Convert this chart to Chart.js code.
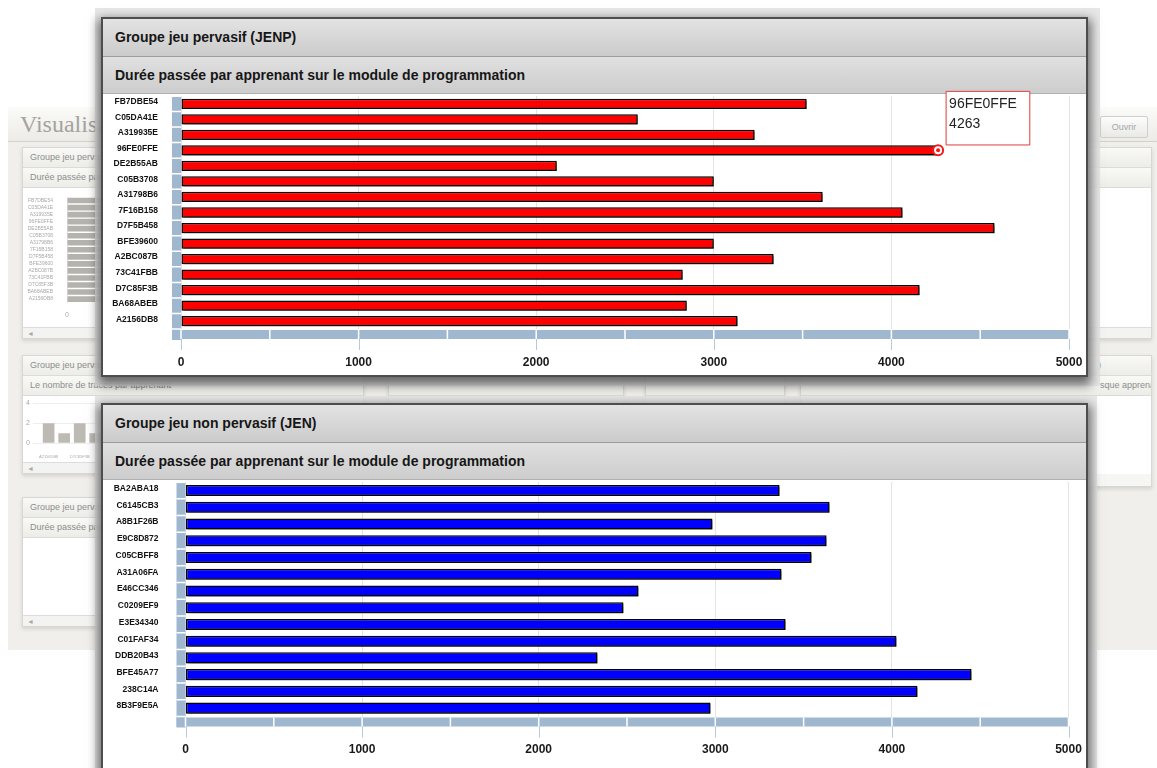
<!DOCTYPE html>
<html lang="fr">
<head>
<meta charset="utf-8">
<title>Durée passée par apprenant</title>
<script src="https://cdn.jsdelivr.net/npm/chart.js@4.4.1/dist/chart.umd.min.js"></script>
<style>
  body { margin: 0; width: 1157px; height: 768px; overflow: hidden; position: relative; background: #fff; font-family: "Liberation Sans", Arial, sans-serif; }
  .abs { position: absolute; }
  #dash { left: 8px; top: 107px; width: 1149px; height: 543px; background: #f0efeb; }
  #dashHead { left: 8px; top: 107px; width: 1149px; height: 34px; background: linear-gradient(#fbfbf9, #ecebe6); border-bottom: 1px solid #d3d2cc; }
  #dashHead span { position: absolute; left: 12px; top: 4px; font: 24px "Liberation Serif", serif; color: #a3a3a0; }
  .btn { width: 46px; height: 20px; border: 1px solid #cfcfcb; border-radius: 2px; background: linear-gradient(#fdfdfd, #e9e9e6); font-size: 9px; color: #a5a5a5; text-align: center; line-height: 20px; }
  .card { background: #f6f6f4; border: 1px solid #d8d7d2; box-shadow: 0 2px 4px rgba(0,0,0,0.12); overflow: hidden; }
  .ct, .cs { height: 19px; line-height: 19px; padding-left: 7px; font-size: 9px; color: #8e8e8c; white-space: nowrap; background: linear-gradient(#f9f9f7, #ecece8); border-bottom: 1px solid #dcdbd5; }
  .cb { background: #fff; position: relative; }
  .scroll { height: 11px; border-top: 1px solid #ddd; background: #f3f3f1; font-size: 7px; color: #aaa; line-height: 11px; padding-left: 4px; }
  .frame { background: rgba(228,228,228,0.88); }
  .panel { border: 2px solid #4d4d4d; background: #fff; box-shadow: 0 5px 10px 3px rgba(0,0,0,0.55); overflow: hidden; }
  .pt { height: 37px; line-height: 37px; padding-left: 12px; font-size: 14px; font-weight: bold; color: #161616; background: linear-gradient(#e3e3e3, #cbcbcb); border-bottom: 1px solid #9c9c9c; }
  .ps { height: 36px; line-height: 36px; padding-left: 12px; font-size: 14px; font-weight: bold; color: #161616; background: linear-gradient(#e0e0e0, #cdcdcd); border-bottom: 1px solid #b0b0b0; }
  canvas { position: absolute; }
</style>
</head>
<body>
<div id="dash" class="abs"></div>
<div id="dashHead" class="abs"><span>Visualisation</span></div>
<div class="abs btn" style="left:1100px;top:116px">Ouvrir</div>

<div class="abs card" style="left:22px;top:147px;width:540px;height:190px">
  <div class="ct">Groupe jeu pervasif (JENP)</div>
  <div class="cs">Durée passée par apprenant sur le module de programmation</div>
  <div class="cb" style="height:139px"><canvas id="mini1" width="500" height="139" style="left:2px;top:0"></canvas></div>
  <div class="scroll">&#9668;</div>
</div>
<div class="abs card" style="left:580px;top:147px;width:570px;height:190px">
  <div class="ct">Groupe jeu non pervasif (JEN)</div>
  <div class="cs">Durée passée par apprenant sur le module de programmation</div>
  <div class="cb" style="height:139px"></div>
  <div class="scroll"></div>
</div>

<div class="abs card" style="left:22px;top:355px;width:340px;height:117px">
  <div class="ct">Groupe jeu pervasif (JENP)</div>
  <div class="cs">Le nombre de traces par apprenant</div>
  <div class="cb" style="height:66px"><canvas id="mini2" width="80" height="66" style="left:0;top:0"></canvas></div>
  <div class="scroll">&#9668;</div>
</div>
<div class="abs card" style="left:388px;top:355px;width:234px;height:117px">
  <div class="ct">&nbsp;</div>
  <div class="cs">&nbsp;</div>
</div>
<div class="abs card" style="left:645px;top:355px;width:138px;height:117px">
  <div class="ct">&nbsp;</div>
  <div class="cs">&nbsp;</div>
</div>
<div class="abs card" style="left:800px;top:355px;width:350px;height:130px">
  <div class="ct" style="padding-left:297px">)</div>
  <div class="cs" style="padding-left:299px">sque apprenant</div>
  <div class="cb" style="height:78px"></div>
</div>

<div class="abs card" style="left:22px;top:497px;width:340px;height:128px">
  <div class="ct">Groupe jeu pervasif (JENP)</div>
  <div class="cs">Durée passée par apprenant</div>
  <div class="cb" style="height:77px"></div>
  <div class="scroll">&#9668;</div>
</div>

<div class="abs frame" style="left:95px;top:8px;width:1005px;height:378px"></div>
<div class="abs panel" style="left:101px;top:17px;width:983px;height:356px">
  <div class="pt">Groupe jeu pervasif (JENP)</div>
  <div class="ps">Durée passée par apprenant sur le module de programmation</div>
</div>

<div class="abs frame" style="left:95px;top:396px;width:1002px;height:380px"></div>
<div class="abs panel" style="left:101px;top:403px;width:983px;height:380px">
  <div class="pt">Groupe jeu non pervasif (JEN)</div>
  <div class="ps">Durée passée par apprenant sur le module de programmation</div>
</div>

<canvas id="chartJenp" width="983" height="288" style="left:103px;top:88px"></canvas>
<canvas id="chartJen" width="983" height="294" style="left:103px;top:477px"></canvas>

<script>
const jenpLabels = ["FB7DBE54", "C05DA41E", "A319935E", "96FE0FFE", "DE2B55AB", "C05B3708", "A31798B6", "7F16B158", "D7F5B458", "BFE39600", "A2BC087B", "73C41FBB", "D7C85F3B", "BA68ABEB", "A2156DB8"];
const jenpDurees = [3523, 2572, 3230, 4263, 2116, 3000, 3613, 4063, 4581, 3000, 3337, 2825, 4159, 2848, 3134];

const jenLabels = ["BA2ABA18", "C6145CB3", "A8B1F26B", "E9C8D872", "C05CBFF8", "A31A06FA", "E46CC346", "C0209EF9", "E3E34340", "C01FAF34", "DDB20B43", "BFE45A77", "238C14A", "8B3F9E5A"];
const jenDurees = [3364, 3647, 2984, 3630, 3545, 3375, 2565, 2480, 3398, 4026, 2333, 4451, 4145, 2973];

const xTicks = [0, 1000, 2000, 3000, 4000, 5000];

// petit graphique du tableau de bord en arriere-plan
const traceLabels = ["A2156DB8", "BA68ABEB", "D7C85F3B", "73C41FBB"];
const traceCounts = [2, 1, 2, 1];
const traceTicks = [0, 2, 4];

const FONT = "'Liberation Sans', Arial, sans-serif";

// bandes bleues des axes + graduations
const bands = {
  id: "bands",
  beforeDatasetsDraw(chart) {
    const { ctx, chartArea: a, scales: { x, y } } = chart;
    const t = 9;
    const step = y.getPixelForValue(1) - y.getPixelForValue(0);
    ctx.save();
    ctx.fillStyle = "#a0b8cf";
    ctx.fillRect(a.left - t, a.top + 1, t, a.bottom - a.top + t + 1);
    ctx.fillRect(a.left - t, a.bottom + 1, a.right - a.left + t, t);

    ctx.strokeStyle = "#fff";
    ctx.lineWidth = 1.5;
    ctx.beginPath();
    y.ticks.forEach((tk, i) => {
      const py = y.getPixelForValue(i) + step / 2;
      ctx.moveTo(a.left - t, py);
      ctx.lineTo(a.left, py);
    });
    x.ticks.forEach((tk, i) => {
      const px = x.getPixelForValue(tk.value);
      ctx.moveTo(px, a.bottom + 1);
      ctx.lineTo(px, a.bottom + 1 + t);
      if (i < x.ticks.length - 1) {
        const mid = (px + x.getPixelForValue(x.ticks[i + 1].value)) / 2;
        ctx.moveTo(mid, a.bottom + 1);
        ctx.lineTo(mid, a.bottom + 1 + t);
      }
    });
    ctx.stroke();

    ctx.strokeStyle = "#b7c8da";
    ctx.lineWidth = 1;
    ctx.beginPath();
    x.ticks.forEach(tk => {
      const px = Math.round(x.getPixelForValue(tk.value)) + 0.5;
      ctx.moveTo(px, a.bottom + 1 + t);
      ctx.lineTo(px, a.bottom + t + 12);
    });
    ctx.stroke();
    ctx.restore();
  }
};

const barShadow = {
  id: "barShadow",
  beforeDatasetsDraw(chart) {
    const ctx = chart.ctx;
    ctx.save();
    ctx.shadowColor = "rgba(0,0,0,0.6)";
    ctx.shadowBlur = 2;
    ctx.shadowOffsetX = 2;
    ctx.shadowOffsetY = 2;
  },
  afterDatasetsDraw(chart) {
    chart.ctx.restore();
  }
};

// point rond au bout de la barre survolee
const marker = {
  id: "marker",
  afterDraw(chart) {
    const act = chart.tooltip.getActiveElements();
    if (!act.length) return;
    const el = act[0].element;
    const ctx = chart.ctx;
    ctx.save();
    ctx.beginPath();
    ctx.arc(el.x, el.y, 5, 0, Math.PI * 2);
    ctx.fillStyle = "#fff";
    ctx.fill();
    ctx.lineWidth = 2;
    ctx.strokeStyle = "#ee1c1c";
    ctx.stroke();
    ctx.beginPath();
    ctx.arc(el.x, el.y, 2, 0, Math.PI * 2);
    ctx.fillStyle = "#ee1c1c";
    ctx.fill();
    ctx.restore();
  }
};

Chart.Tooltip.positioners.besideBar = function (items) {
  if (!items.length) return false;
  const el = items[0].element;
  return { x: el.x + 8, y: el.y - 59 };
};

function makeChart(id, labels, values, color, box, tooltip, extra) {
  return new Chart(document.getElementById(id), {
    type: "bar",
    data: {
      labels: labels,
      datasets: [{
        data: values,
        backgroundColor: color,
        borderColor: "#000",
        borderWidth: 1.5,
        borderSkipped: false,
        barPercentage: 0.66,
        categoryPercentage: 1
      }]
    },
    options: {
      indexAxis: "y",
      responsive: false,
      animation: false,
      events: [],
      layout: { padding: { top: box.top, right: box.right, left: 0, bottom: 0 } },
      scales: {
        x: {
          min: 0,
          max: 5000,
          afterBuildTicks: s => { s.ticks = xTicks.map(v => ({ value: v })); },
          afterFit: s => { s.height = box.xHeight; },
          border: { display: false },
          grid: { color: "#e4e4e4", drawTicks: true, tickLength: 26, tickColor: "rgba(0,0,0,0)" },
          ticks: { padding: 0, color: "#1a1a1a", callback: v => String(v), font: { family: FONT, size: 12, weight: "bold" } }
        },
        y: {
          afterFit: s => { s.width = box.yWidth; },
          border: { display: false },
          grid: { display: false, drawTicks: true, tickLength: box.labelPad },
          ticks: { padding: 0, labelOffset: -2, color: "#111", autoSkip: false, font: { family: FONT, size: 8.5, weight: "bold" } }
        }
      },
      plugins: {
        legend: { display: false },
        tooltip: tooltip || { enabled: false }
      }
    },
    plugins: [bands, barShadow].concat(extra || [])
  });
}

const chartJenp = makeChart("chartJenp", jenpLabels, jenpDurees, "#ff0000",
  { top: 8, right: 17, xHeight: 47, yWidth: 78, labelPad: 23 },
  {
    enabled: true,
    position: "besideBar",
    xAlign: "left",
    yAlign: "top",
    caretSize: 0,
    caretPadding: 0,
    cornerRadius: 0,
    backgroundColor: "#fff",
    borderColor: "#e23a3a",
    borderWidth: 1,
    titleColor: "#222",
    bodyColor: "#222",
    titleFont: { family: FONT, size: 14, weight: "normal" },
    bodyFont: { family: FONT, size: 14 },
    titleMarginBottom: 4,
    displayColors: false,
    padding: { top: 4, left: 3, right: 13, bottom: 12 },
    callbacks: { label: c => String(c.parsed.x) }
  },
  [marker]);

chartJenp.tooltip.setActiveElements([{ datasetIndex: 0, index: jenpLabels.indexOf("96FE0FFE") }], { x: 0, y: 0 });
chartJenp.update();

makeChart("chartJen", jenLabels, jenDurees, "#0000ff",
  { top: 5, right: 17.5, xHeight: 54.5, yWidth: 82.5, labelPad: 27 });

// graphiques pales du tableau de bord
new Chart(document.getElementById("mini1"), {
  type: "bar",
  data: { labels: jenpLabels, datasets: [{ data: jenpDurees, backgroundColor: "#b5b3ad", barPercentage: 0.8, categoryPercentage: 1 }] },
  options: {
    indexAxis: "y", responsive: false, animation: false, events: [],
    layout: { padding: { top: 4, right: 10 } },
    scales: {
      x: { min: 0, max: 5000, afterBuildTicks: s => { s.ticks = xTicks.map(v => ({ value: v })); }, border: { display: false },
           grid: { color: "#eee", drawTicks: false }, ticks: { padding: 8, color: "#aaa", callback: v => String(v), font: { family: FONT, size: 7 } } },
      y: { afterFit: s => { s.width = 42; }, border: { color: "#e4e4e4" }, grid: { display: false },
           ticks: { padding: 6, color: "#a8a8a8", autoSkip: false, font: { family: FONT, size: 5 } } }
    },
    plugins: { legend: { display: false }, tooltip: { enabled: false } }
  }
});

new Chart(document.getElementById("mini2"), {
  type: "bar",
  data: { labels: traceLabels, datasets: [{ data: traceCounts, backgroundColor: "#bcbab3", barPercentage: 0.75, categoryPercentage: 1 }] },
  options: {
    responsive: false, animation: false, events: [],
    layout: { padding: { top: 6, right: 0 } },
    scales: {
      y: { min: 0, max: 4, afterBuildTicks: s => { s.ticks = traceTicks.map(v => ({ value: v })); }, border: { display: false },
           grid: { color: "#eee" }, ticks: { color: "#aaa", font: { family: FONT, size: 7 } } },
      x: { border: { display: false }, grid: { display: false },
           ticks: { color: "#aaa", maxRotation: 0, font: { family: FONT, size: 4 } } }
    },
    plugins: { legend: { display: false }, tooltip: { enabled: false } }
  }
});
</script>
</body>
</html>
